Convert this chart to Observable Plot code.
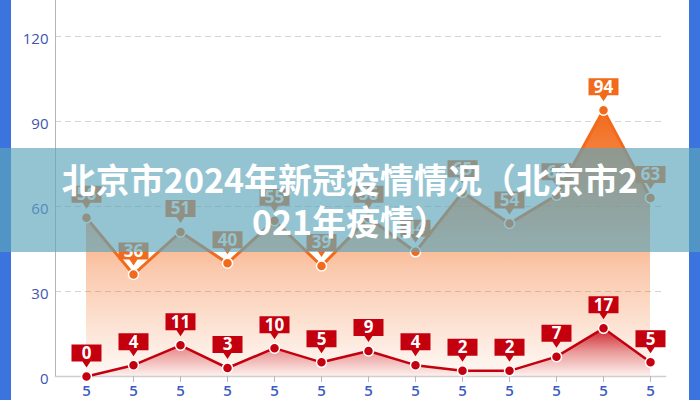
<!DOCTYPE html>
<html>
<head>
<meta charset="utf-8">
<script src="https://cdn.jsdelivr.net/npm/d3@7"></script>
<script src="https://cdn.jsdelivr.net/npm/@observablehq/plot@0.6"></script>
<style>
  html, body { margin: 0; padding: 0; background: #fff; }
  #wrap { position: relative; width: 700px; height: 400px; overflow: hidden; background: #fff; }
  #chart { position: absolute; left: 0; top: 0; }
  .edge { position: absolute; top: 0; height: 400px; background: #3b74dc; }
  #banner { position: absolute; left: 0; top: 148px; width: 700px; height: 104px;
            background: rgba(92,165,187,0.66); }
  #title { position: absolute; left: 0; top: 10px; width: 700px; text-align: center;
           color: #fff; font-family: "Noto Sans CJK SC", sans-serif; font-weight: 700;
           font-size: 34px; line-height: 42px; }
</style>
</head>
<body>
<div id="wrap">
  <div id="chart"></div>
  <div class="edge" style="left:0;width:11px"></div>
  <div class="edge" style="left:689px;width:11px"></div>
  <div id="banner"><div id="title">北京市2024年新冠疫情情况（北京市2<br>021年疫情）</div></div>
</div>
<script>
// ---- data ----
const xLabels = ["5","5","5","5","5","5","5","5","5","5","5","5","5"];
const upperValues = [56, 36, 51, 40, 55, 39, 56, 44, 65, 54, 64, 94, 63];
const lowerValues = [0, 4, 11, 3, 10, 5, 9, 4, 2, 2, 7, 17, 5];
const yTicks = [0, 30, 60, 90, 120];

const data = xLabels.map((label, i) => ({i, label, upper: upperValues[i], lower: lowerValues[i]}));

const ORANGE = "#f26a1b";
const RED = "#c4000f";

// callout box shape drawn above the point
const callout = {
  draw(ctx) {
    ctx.moveTo(-15, -32);
    ctx.lineTo(15, -32);
    ctx.lineTo(15, -15);
    ctx.lineTo(4, -15);
    ctx.lineTo(0, -9);
    ctx.lineTo(-4, -15);
    ctx.lineTo(-15, -15);
    ctx.closePath();
  }
};

const defs = () => {
  const d = d3.create("svg:defs");
  const g1 = d.append("linearGradient").attr("id", "gOrange").attr("x1", 0).attr("x2", 0).attr("y1", 0).attr("y2", 1);
  [[0, 1], [0.3, 0.72], [0.6, 0.36], [1, 0.04]].forEach(([o, a]) =>
    g1.append("stop").attr("offset", o).attr("stop-color", ORANGE).attr("stop-opacity", a));
  const g2 = d.append("linearGradient").attr("id", "gRed").attr("x1", 0).attr("x2", 0).attr("y1", 0).attr("y2", 1);
  [[0, 0.85], [0.5, 0.35], [1, 0.03]].forEach(([o, a]) =>
    g2.append("stop").attr("offset", o).attr("stop-color", RED).attr("stop-opacity", a));
  return d.node();
};

const chart = Plot.plot({
  width: 700,
  height: 400,
  marginLeft: 55,
  marginRight: 35,
  marginTop: 0,
  marginBottom: 24,
  style: {fontFamily: "'Open Sans', 'Noto Sans', sans-serif", background: "transparent"},
  x: {type: "point", domain: data.map(d => d.i), range: [86, 650], padding: 0, label: null},
  y: {domain: [0, 120], range: [376, 36], label: null},
  marks: [
    defs,
    Plot.gridY({ticks: [30, 60, 90, 120], stroke: "#d4d4d4", strokeOpacity: 1, strokeDasharray: "6,4"}),
    Plot.frame({anchor: "left", stroke: "#b5b5b5"}),
    Plot.frame({anchor: "bottom", stroke: "#cfcfcf", strokeWidth: 1.5}),
    Plot.axisY({ticks: yTicks, tickSize: 0, tickPadding: 7, fill: "#3b55b2", fontSize: 15, dy: 3, label: null}),
    Plot.axisX({tickSize: 6, tickPadding: 3, stroke: "#b8b8b8", fill: "#3b5cc0", fontSize: 15, fontWeight: 600,
                tickFormat: i => xLabels[i], label: null}),
    // upper series
    Plot.areaY(data, {x: "i", y: "upper", fill: "url(#gOrange)"}),
    Plot.lineY(data, {x: "i", y: "upper", stroke: ORANGE, strokeWidth: 3}),
    Plot.dot(data, {x: "i", y: "upper", r: 5, fill: ORANGE, stroke: "#fff", strokeWidth: 1.5}),
    Plot.dot(data, {x: "i", y: "upper", symbol: callout, fill: ORANGE, stroke: "none"}),
    Plot.text(data, {x: "i", y: "upper", text: d => String(d.upper), dy: -23, fill: "#fff",
                     fontSize: 17, fontWeight: 700, fontFamily: "'Noto Sans', sans-serif"}),
    // lower series
    Plot.areaY(data, {x: "i", y: "lower", fill: "url(#gRed)"}),
    Plot.lineY(data, {x: "i", y: "lower", stroke: RED, strokeWidth: 2.5}),
    Plot.dot(data, {x: "i", y: "lower", r: 5, fill: RED, stroke: "#fff", strokeWidth: 1.5}),
    Plot.dot(data, {x: "i", y: "lower", symbol: callout, fill: RED, stroke: "none"}),
    Plot.text(data, {x: "i", y: "lower", text: d => String(d.lower), dy: -23, fill: "#fff",
                     fontSize: 17, fontWeight: 700, fontFamily: "'Noto Sans', sans-serif"})
  ]
});
document.getElementById("chart").appendChild(chart);
</script>
</body>
</html>
